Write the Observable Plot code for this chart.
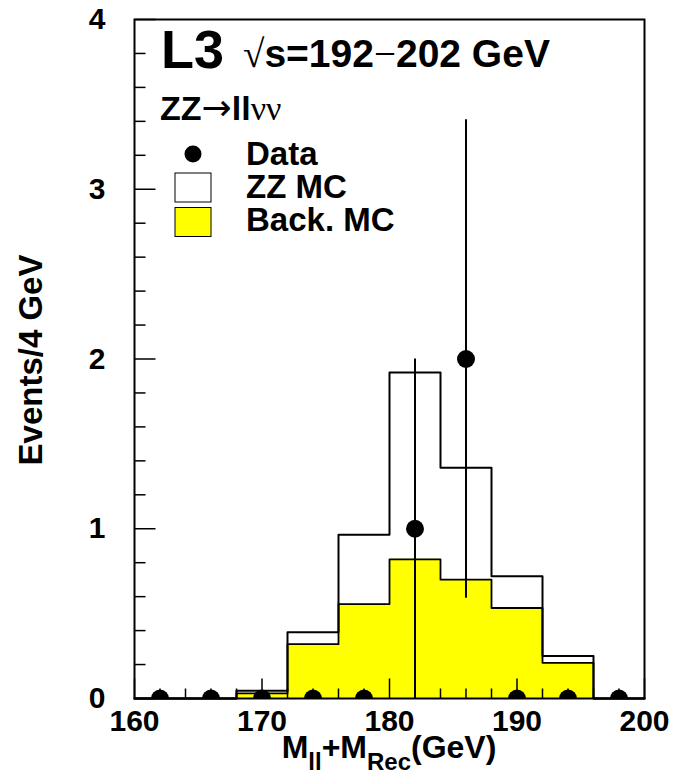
<!DOCTYPE html>
<html>
<head>
<meta charset="utf-8">
<script src="https://cdn.jsdelivr.net/npm/d3@7"></script>
<script src="https://cdn.jsdelivr.net/npm/@observablehq/plot@0.6"></script>
<style>
  html, body { margin: 0; padding: 0; background: white; }
</style>
</head>
<body>
<div id="chart"></div>
<script>
// ---- data ----
const binEdges = [160, 164, 168, 172, 176, 180, 184, 188, 192, 196, 200];
const mcTotal  = [0, 0, 0.045, 0.39, 0.965, 1.92, 1.36, 0.72, 0.25, 0];   // ZZ MC + background (white histogram)
const backMC   = [0, 0, 0.03, 0.32, 0.556, 0.82, 0.70, 0.533, 0.21, 0];  // background MC (yellow)
const dataX    = [162, 166, 170, 174, 178, 182, 186, 190, 194, 198];
const dataY    = [0, 0, 0, 0, 0, 1, 2, 0, 0, 0];
const dataErr  = [0, 0, 0, 0, 0, 1, 1.41, 0, 0, 0];
const xTickLabels = [160, 170, 180, 190, 200];
const yTickLabels = [0, 1, 2, 3, 4];
const xMinorTicks = [162,164,166,168,172,174,176,178,182,184,186,188,192,194,196,198];
const yMinorTicks = [0.2,0.4,0.6,0.8,1.2,1.4,1.6,1.8,2.2,2.4,2.6,2.8,3.2,3.4,3.6,3.8];

// step outlines built from the bin arrays
function steps(values) {
  const pts = [];
  values.forEach((v, i) => {
    pts.push({x: binEdges[i], y: v});
    pts.push({x: binEdges[i + 1], y: v});
  });
  return pts;
}
const totalSteps = steps(mcTotal);
const backSteps = steps(backMC);
const points = dataX.map((x, i) => ({x, y: dataY[i], lo: dataY[i] - dataErr[i], hi: dataY[i] + dataErr[i], e: dataErr[i]}));

// inward tick symbols
const tickUp = len => ({draw(ctx) { ctx.moveTo(0, 0); ctx.lineTo(0, -len); }});
const tickRight = len => ({draw(ctx) { ctx.moveTo(0, 0); ctx.lineTo(len, 0); }});

const SANS = "'Liberation Sans', Arial, Helvetica, sans-serif";
const SERIF = "'Liberation Serif', 'DejaVu Serif', serif";

const svg = Plot.plot({
  width: 683,
  height: 774,
  marginLeft: 134,
  marginRight: 39,
  marginTop: 19,
  marginBottom: 76,
  style: {fontFamily: SANS, fontSize: "30px", fontWeight: "bold", color: "black", background: "white", overflow: "visible"},
  x: {domain: [160, 200], ticks: xTickLabels, tickSize: 0, tickPadding: 11, label: null, tickFormat: d => String(d)},
  y: {domain: [0, 4], ticks: yTickLabels, tickSize: 0, tickPadding: 29, label: null, tickFormat: d => String(d)},
  marks: [
    Plot.area(backSteps, {x1: "x", y1: 0, y2: "y", fill: "#ffff00", curve: "linear"}),
    Plot.line(backSteps, {x: "x", y: "y", stroke: "black", strokeWidth: 1.8, curve: "linear"}),
    Plot.line(totalSteps, {x: "x", y: "y", stroke: "black", strokeWidth: 2, curve: "linear"}),
    Plot.dot(yTickLabels, {y: d => d, frameAnchor: "left", symbol: tickRight(21), stroke: "black", strokeWidth: 1.5, fill: "none"}),
    Plot.dot(yMinorTicks, {y: d => d, frameAnchor: "left", symbol: tickRight(11), stroke: "black", strokeWidth: 1.5, fill: "none"}),
    Plot.dot(xTickLabels, {x: d => d, frameAnchor: "bottom", symbol: tickUp(20), stroke: "black", strokeWidth: 1.5, fill: "none"}),
    Plot.dot(xMinorTicks, {x: d => d, frameAnchor: "bottom", symbol: tickUp(10), stroke: "black", strokeWidth: 1.5, fill: "none"}),
    Plot.frame({stroke: "black", strokeWidth: 2}),
    Plot.ruleX(points.filter(d => d.e > 0), {x: "x", y1: "lo", y2: "hi", stroke: "black", strokeWidth: 2}),
    Plot.dot(points, {x: "x", y: "y", r: 9, fill: "black", stroke: "none", clip: true})
  ]
});

document.getElementById("chart").appendChild(svg);

// ---- annotations, legend and axis titles (real text) ----
const root = d3.select(svg);
const g = root.append("g").attr("fill", "black").attr("font-family", SANS).attr("font-weight", "bold");

function rich(x, y, size, parts, anchor = "start") {
  const t = g.append("text").attr("x", x).attr("y", y).attr("font-size", size).attr("text-anchor", anchor);
  parts.forEach(p => {
    const s = t.append("tspan").text(p.t);
    if (p.font) s.attr("font-family", p.font).attr("font-weight", "normal");
    if (p.size) s.attr("font-size", p.size);
    if (p.dy) s.attr("dy", p.dy);
  });
  return t;
}

rich(161, 68, 54, [{t: "L3"}]);
rich(243, 67, 39, [{t: "√", font: SERIF}, {t: "s=192"}, {t: "−", font: SERIF}, {t: "202 GeV"}]);
rich(160, 120, 34, [{t: "ZZ"}, {t: "→", font: "'DejaVu Sans', sans-serif", size: 36}, {t: "ll"}, {t: "νν", font: SERIF}]);

// legend
g.append("circle").attr("cx", 193).attr("cy", 154).attr("r", 8.5).attr("fill", "black");
g.append("rect").attr("x", 175).attr("y", 173).attr("width", 36).attr("height", 29).attr("fill", "white").attr("stroke", "black").attr("stroke-width", 1);
g.append("rect").attr("x", 175).attr("y", 207.5).attr("width", 36).attr("height", 29).attr("fill", "#ffff00").attr("stroke", "black").attr("stroke-width", 1);
rich(246, 165, 33, [{t: "Data"}]);
rich(246, 198, 33, [{t: "ZZ MC"}]);
rich(246, 231, 33, [{t: "Back. MC"}]);

// y axis title
g.append("text").attr("transform", "translate(42,360) rotate(-90)").attr("text-anchor", "middle").attr("font-size", 33).text("Events/4 GeV");

// x axis title with subscripts
rich(389, 758, 32, [
  {t: "M"}, {t: "ll", size: 24, dy: 12},
  {t: "+M", dy: -12}, {t: "Rec", size: 24, dy: 12},
  {t: "(GeV)", dy: -12}
], "middle");
</script>
</body>
</html>
